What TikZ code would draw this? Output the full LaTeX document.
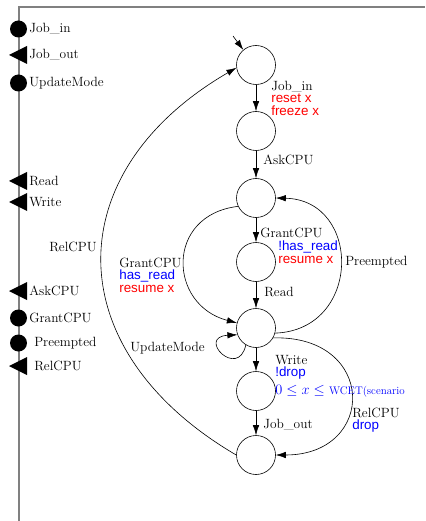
\documentclass[tikz,border=0pt]{standalone}
\usepackage{fontspec}
\setsansfont{Liberation Sans}
\usepackage{tikz}
\usetikzlibrary{arrows.meta}

\newcommand{\accion}[1]{\textcolor{red}{\textsf{#1}}}
\newcommand{\guarda}[1]{\textcolor{blue}{\textsf{#1}}}

\begin{document}
\begin{tikzpicture}[x=1pt, y=-1pt, line width=0.6pt,
  >={Latex[length=10pt,width=6.5pt]},
  estado/.style={circle, draw, minimum size=39pt, inner sep=0pt},
  etq/.style={font=\fontsize{13.4}{12.5}\selectfont, inner sep=0pt, anchor=west, align=left}]
  \useasboundingbox (0,0) rectangle (425,521);

  % Marco
  \draw[gray, line width=2pt] (19,521) -- (19,7) -- (425,7);

  % Puertos de entrada
  \foreach \y/\x/\t in {29/29/Job\_in, 83/29/UpdateMode, 318/29/GrantCPU, 343/34/Preempted}{
    \fill (18.5,\y) circle (8.5pt);
    \node[etq] (p\y) at (\x,\y) {\t};
  }

  % Puertos de salida
  \foreach \y/\x/\t in {55/29/Job\_out, 181/29/Read, 202/29/Write, 291/29/AskCPU, 366/34/RelCPU}{
    \fill (9,\y) -- (27,\y-9) -- (27,\y+9) -- cycle;
    \node[etq] (p\y) at (\x,\y) {\t};
  }

  % Estados
  \foreach \i/\y in {0/65, 1/131, 2/198, 3/262, 4/328, 5/391, 6/455}
    \node[estado] (s\i) at (256,\y) {};

  % Estado inicial
  \coordinate (ini) at (233,36);
  \draw[->] (ini) -- (s0.130);

  % Transiciones rectas
  \draw[->] (s0) -- (s1);
  \draw[->] (s1) -- (s2);
  \draw[->] (s2) -- (s3);
  \draw[->] (s3) -- (s4);
  \draw[->] (s4) -- (s5);
  \draw[->] (s5) -- (s6);

  % Transiciones curvas
  \draw[->] (s2.205) .. controls (165,215) and (168,305) .. (s4.165);
  \draw[->] (s4.-15) .. controls (362,330) and (362,200) .. (s2.east);
  \draw[->] (s4.-30) .. controls (377,335) and (377,455) .. (s6.east);
  \draw[->] (s4.239) .. controls (238,380) and (196,337) .. (s4.200);
  \draw[->] (s6.west) .. controls (57,350) and (57,172) .. (s0.188);

  % Etiquetas
  \node[etq] (e01) at (271,98) {Job\_in\\\accion{reset x}\\\accion{freeze x}};
  \node[etq] (e12) at (263,160) {AskCPU};
  \node[etq] (e23a) at (260,233) {GrantCPU};
  \node[etq] (e23b) at (278,252) {\guarda{!has\_read}\\\accion{resume x}};
  \node[etq] (e34) at (264,292) {Read};
  \node[etq] (e24) at (119,275) {GrantCPU\\\guarda{has\_read}\\\accion{resume x}};
  \node[etq] (e42) at (345,262) {Preempted};
  \node[etq] (e44) at (130,348) {UpdateMode};
  \node[etq] (e45) at (275,376) {Write\\\guarda{!drop}\\[5pt]\textcolor{blue}{$0\le x\le$ {\fontsize{11}{12}\selectfont WCET(scenario}}};
  \node[etq] (e46) at (352,420) {RelCPU\\\guarda{drop}};
  \node[etq] (e56) at (263,425) {Job\_out};
  \node[etq] (e60) at (49,247) {RelCPU};
\end{tikzpicture}
\end{document}
